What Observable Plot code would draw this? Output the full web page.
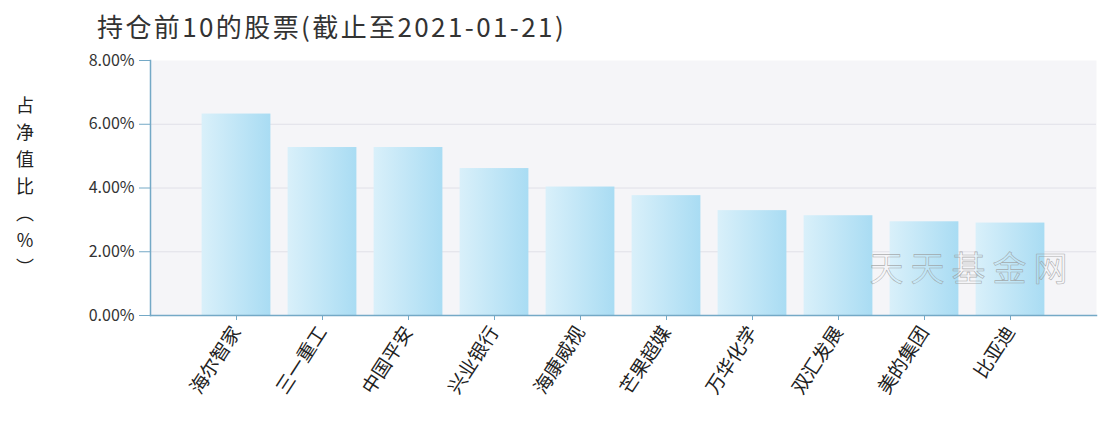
<!DOCTYPE html>
<html><head><meta charset="utf-8">
<script src="https://cdn.jsdelivr.net/npm/d3@7"></script>
<script src="https://cdn.jsdelivr.net/npm/@observablehq/plot@0.6"></script>
<style>
body{margin:0;background:#fff;font-family:"Noto Sans CJK SC",sans-serif;}
#wrap{position:relative;width:1108px;height:424px;overflow:hidden;}
#title{height:44px;padding-left:97px;font-size:26px;letter-spacing:2.4px;line-height:52px;color:#333;box-sizing:border-box;white-space:nowrap;overflow:visible;}
#ylab{position:absolute;left:12px;top:96px;writing-mode:vertical-rl;text-orientation:upright;font-size:18px;letter-spacing:9px;color:#222;}
#chart svg{display:block;}
</style></head><body>
<div id="wrap"><div id="title">持仓前10的股票(截止至2021-01-21)</div><div id="ylab">占净值比（%）</div><div id="chart"></div></div>
<script>
const stocks = ["海尔智家","三一重工","中国平安","兴业银行","海康威视","芒果超媒","万华化学","双汇发展","美的集团","比亚迪"];
const weights = [6.32,5.27,5.27,4.61,4.03,3.76,3.29,3.13,2.94,2.90];
const yTicks = [0,2,4,6,8];
const watermark = ["天天基金网"];

const data = stocks.map((name,i)=>({name, weight: weights[i]}));
const axisColor = "#74a9c6";
const fmt = d => d.toFixed(2) + "%";

const defs = () => {
  const d = d3.create("svg:defs");
  const g = d.append("linearGradient").attr("id","barGrad").attr("x1","0").attr("x2","1").attr("y1","0").attr("y2","0");
  g.append("stop").attr("offset","0%").attr("stop-color","#d9f0fa");
  g.append("stop").attr("offset","100%").attr("stop-color","#a9dcf3");
  return d.node();
};

const chart = Plot.plot({
  width:1108, height:380,
  marginTop:16, marginBottom:109, marginLeft:150, marginRight:12,
  style:{fontFamily:'"Noto Sans CJK SC",sans-serif', background:"transparent", color:"#333"},
  x:{domain:stocks, paddingInner:0.2, paddingOuter:0.6, round:false, label:null},
  y:{domain:[0,8], label:null},
  marks:[
    defs,
    Plot.frame({fill:"#f5f5f8", stroke:null}),
    Plot.gridY(yTicks.slice(1,-1), {stroke:"#e0e0e8", strokeOpacity:1}),
    Plot.barY(data, {x:"name", y:"weight", fill:"url(#barGrad)"}),
    Plot.text(watermark, {text:d=>d, frameAnchor:"bottom-right", textAnchor:"end", dx:-22, dy:-35, fontSize:34, fill:"none", stroke:"#9a9a9a", strokeWidth:0.6, strokeOpacity:0.8}),
    Plot.axisY({ticks:yTicks, tickFormat:fmt, tickSize:11, tickPadding:5, stroke:axisColor, fontSize:16, fill:"#333"}),
    Plot.axisX({tickRotate:-57, tickSize:5, tickPadding:8, stroke:axisColor, fontSize:19, fill:"#222"}),
    Plot.frame({anchor:"left", stroke:axisColor, strokeWidth:1.5}),
    Plot.frame({anchor:"bottom", stroke:axisColor, strokeWidth:1.5})
  ]
});
d3.select(chart).selectAll("text").filter(function(){ return this.textContent === watermark[0]; }).style("letter-spacing","7px");
document.getElementById("chart").appendChild(chart);
</script>
</body></html>
